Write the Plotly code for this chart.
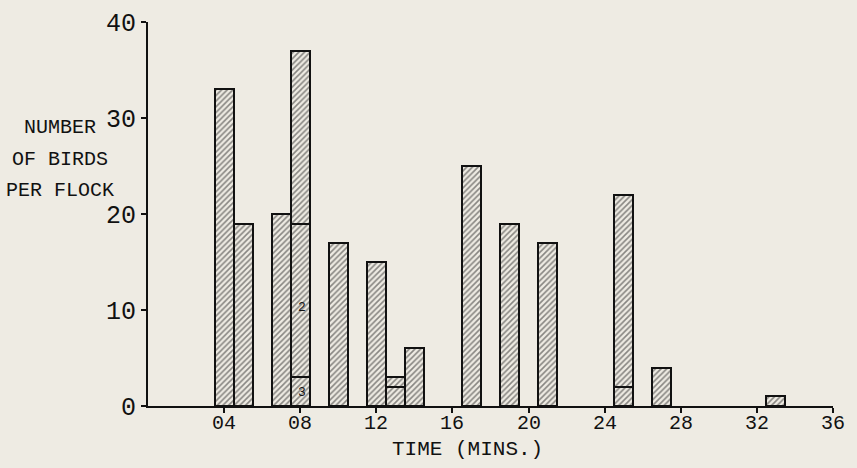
import plotly.graph_objects as go

# Data
times = [4, 5, 7, 8, 10, 12, 13, 14, 17, 19, 21, 25, 27, 33]
seg_bottom = [33, 19, 20, 3, 17, 15, 2, 6, 25, 19, 17, 2, 4, 1]
seg_middle = [None, None, None, 16, None, None, 1, None, None, None, None, 20, None, None]
seg_top = [None, None, None, 18, None, None, None, None, None, None, None, None, None, None]

x_tick_vals = [4, 8, 12, 16, 20, 24, 28, 32, 36]
x_tick_text = ["04", "08", "12", "16", "20", "24", "28", "32", "36"]
y_tick_vals = [0, 10, 20, 30, 40]
y_tick_text = ["0", "10", "20", "30", "40"]

segment_labels = [("2", 8.1, 10.3), ("3", 8.1, 1.4)]

BG = "#eeebe3"
INK = "#111111"
FONT = "Liberation Mono, Courier New, monospace"

def bar_trace(vals):
    return go.Bar(
        x=times, y=vals, width=1.0,
        marker=dict(
            color=BG,
            line=dict(color=INK, width=2.5),
            pattern=dict(shape="/", fgcolor="#222222", bgcolor=BG, size=4, solidity=0.4),
        ),
        showlegend=False, hoverinfo="skip",
    )

fig = go.Figure([bar_trace(seg_bottom), bar_trace(seg_middle), bar_trace(seg_top)])

annotations = []
for txt, xv, yv in segment_labels:
    annotations.append(dict(x=xv, y=yv, xref="x", yref="y", text=txt, showarrow=False,
                            font=dict(family=FONT, size=13, color=INK)))

# x tick labels placed close under the axis
for v, t in zip(x_tick_vals, x_tick_text):
    annotations.append(dict(x=v, y=0, xref="x", yref="y", text=t, showarrow=False,
                            xanchor="center", yanchor="middle", yshift=-17,
                            font=dict(family=FONT, size=20, color=INK)))

title_lines = [("NUMBER", 0.724), ("OF BIRDS", 0.643), ("PER FLOCK", 0.5625)]
for txt, yp in title_lines:
    annotations.append(dict(x=-0.128, y=yp, xref="paper", yref="paper", text=txt,
                            showarrow=False, xanchor="center", yanchor="middle",
                            font=dict(family=FONT, size=20, color=INK)))

annotations.append(dict(x=0.466, y=-0.112, xref="paper", yref="paper", text="TIME (MINS.)",
                        showarrow=False, xanchor="center", yanchor="middle",
                        font=dict(family=FONT, size=21, color=INK)))

fig.update_layout(
    width=857, height=468,
    margin=dict(l=148, r=24, t=22, b=62),
    paper_bgcolor=BG, plot_bgcolor=BG,
    barmode="stack", bargap=0,
    annotations=annotations,
    font=dict(family=FONT, color=INK),
)
fig.update_xaxes(
    range=[0, 36], tickvals=x_tick_vals,
    showgrid=False, zeroline=False, showline=True, linecolor=INK, linewidth=2,
    ticks="outside", ticklen=5, tickwidth=2, tickcolor=INK,
    showticklabels=False, automargin=False,
)
fig.update_yaxes(
    range=[0, 40], tickvals=y_tick_vals, ticktext=y_tick_text,
    showgrid=False, zeroline=False, showline=True, linecolor=INK, linewidth=2,
    ticks="outside", ticklen=5, tickwidth=2, tickcolor=INK,
    tickfont=dict(family=FONT, size=25, color=INK),
    ticklabelstandoff=0, automargin=False,
)

fig.write_html("out.html", config={"displayModeBar": False},
               post_script="document.body.style.margin='0px';")
